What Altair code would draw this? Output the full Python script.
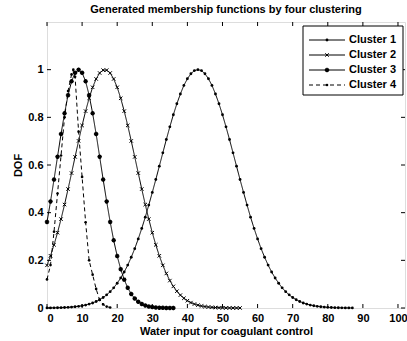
import altair as alt
import pandas as pd

# ---- data ----
x1 = list(range(0, 88))
c1 = [0.0004, 0.0005, 0.0007, 0.001, 0.0015, 0.002, 0.0028, 0.0039, 0.0053, 0.0071,
      0.0094, 0.0124, 0.0163, 0.0211, 0.0272, 0.0347, 0.0439, 0.0552, 0.0686, 0.0847,
      0.104, 0.126, 0.151, 0.180, 0.213, 0.249, 0.290, 0.334, 0.381, 0.432,
      0.485, 0.539, 0.595, 0.651, 0.707, 0.760, 0.811, 0.857, 0.898, 0.934,
      0.962, 0.983, 0.996, 1.0,
      0.996, 0.983, 0.962, 0.934, 0.898, 0.857,
      0.811, 0.760, 0.707, 0.651, 0.595, 0.539, 0.485, 0.432, 0.381, 0.334,
      0.290, 0.249, 0.213, 0.180, 0.151, 0.126, 0.104, 0.0847, 0.0686, 0.0552,
      0.0439, 0.0347, 0.0272, 0.0211, 0.0163, 0.0124, 0.0094, 0.0071, 0.0053, 0.0039,
      0.0028, 0.002, 0.0015, 0.001, 0.0007, 0.0005, 0.0004, 0.0002]

x2 = list(range(0, 56))
c2 = [0.179, 0.219, 0.265, 0.316, 0.373, 0.434, 0.499, 0.566, 0.634, 0.701,
      0.766, 0.826, 0.880, 0.926, 0.961, 0.986, 0.998, 0.998, 0.986, 0.961,
      0.926, 0.880, 0.826, 0.766, 0.701, 0.634, 0.566, 0.499, 0.434, 0.373,
      0.316, 0.265, 0.219, 0.179, 0.145, 0.115, 0.0907, 0.0704, 0.0540, 0.0409,
      0.0306, 0.0226, 0.0165, 0.0119, 0.0084, 0.0059, 0.0041, 0.0028, 0.0019, 0.0013,
      0.0008, 0.0005, 0.0003, 0.0002, 0.0001, 0.0001]

x3 = list(range(0, 37))
c3 = [0.361, 0.447, 0.539, 0.635, 0.730, 0.817, 0.893, 0.951, 0.987, 1.0,
      0.987, 0.951, 0.893, 0.817, 0.730, 0.635, 0.539, 0.447, 0.361, 0.284,
      0.218, 0.163, 0.119, 0.0847, 0.0588, 0.0398, 0.0263, 0.0169, 0.0106, 0.0065,
      0.0039, 0.0023, 0.0013, 0.0007, 0.0004, 0.0002, 0.0001]

x4 = [0, 1, 2, 3, 4, 5, 6, 7, 7.5, 8, 9, 10, 11, 12, 13, 14, 15, 16, 17, 18]
c4 = [0.12, 0.18, 0.32, 0.48, 0.64, 0.80, 0.91, 0.98, 1.0, 0.97,
      0.74, 0.55, 0.36, 0.20, 0.14, 0.08, 0.034, 0.015, 0.006, 0.002]

names = ["Cluster 1", "Cluster 2", "Cluster 3", "Cluster 4"]
x_ticks = [0, 10, 20, 30, 40, 50, 60, 70, 80, 90, 100]
y_ticks = [0, 0.2, 0.4, 0.6, 0.8, 1]

title_text = "Generated membership functions by four clustering"
x_title = "Water input for coagulant control"
y_title = "DOF"

# ---- layout / style ----
W, H = 358, 286
FONT = "Liberation Sans"
FW = "bold"
ASTER = "M-1,0L1,0M0,-1L0,1M-0.7,-0.7L0.7,0.7M-0.7,0.7L0.7,-0.7"
XMARK = "M-1,-1L1,1M-1,1L1,-1"

series = [(x1, c1), (x2, c2), (x3, c3), (x4, c4)]
frames = []
for name, (xs, ys) in zip(names, series):
    frames.append(pd.DataFrame({"x": xs, "y": ys, "cluster": name}))
df = pd.concat(frames, ignore_index=True)

xscale = alt.Scale(domain=[0, 102], nice=False, zero=False)
yscale = alt.Scale(domain=[0, 1.2], nice=False)

xaxis = alt.Axis(values=x_ticks, title=x_title, grid=False, domain=False,
                 ticks=False, labelPadding=4, titlePadding=2, labelOverlap=False,
                 labelFontSize=11, titleFontSize=11, labelFont=FONT, titleFont=FONT,
                 labelFontWeight=FW, titleFontWeight=FW,
                 labelColor="black", titleColor="black")
yaxis = alt.Axis(values=y_ticks, title=y_title, grid=False, domain=False, format=".1~f",
                 ticks=False, labelPadding=4, titlePadding=4, labelOverlap=False,
                 labelFontSize=11, titleFontSize=11, labelFont=FONT, titleFont=FONT,
                 labelFontWeight=FW, titleFontWeight=FW,
                 labelColor="black", titleColor="black")
X = alt.X("x:Q", scale=xscale, axis=xaxis)
Y = alt.Y("y:Q", scale=yscale, axis=yaxis)

styles = {
    "Cluster 1": dict(shape="circle", size=8, filled=True, dash=[1, 0], sw=1),
    "Cluster 2": dict(shape=XMARK, size=12, filled=False, dash=[1, 0], sw=1),
    "Cluster 3": dict(shape=ASTER, size=20, filled=False, dash=[1, 0], sw=1.3),
    "Cluster 4": dict(shape="circle", size=7, filled=True, dash=[4, 3], sw=1),
}

base = alt.Chart(df)
layers = []
for name in names:
    st = styles[name]
    sub = base.transform_filter(alt.datum.cluster == name)
    layers.append(sub.mark_line(color="black", strokeWidth=1, strokeDash=st["dash"]).encode(x=X, y=Y))
    layers.append(sub.mark_point(shape=st["shape"], size=st["size"], filled=st["filled"],
                                 color="black", strokeWidth=st["sw"], opacity=1).encode(x=X, y=Y))

# inward ticks (MATLAB box style)
xt = alt.Chart(pd.DataFrame({"x": x_ticks}))
yt = alt.Chart(pd.DataFrame({"y": y_ticks}))
tick_layers = [
    xt.mark_rule(color="black", strokeWidth=1).encode(x=X, y=alt.value(H), y2=alt.value(H - 4)),
    xt.mark_rule(color="black", strokeWidth=1).encode(x=X, y=alt.value(0), y2=alt.value(4)),
    yt.mark_rule(color="black", strokeWidth=1).encode(y=Y, x=alt.value(0), x2=alt.value(4)),
    yt.mark_rule(color="black", strokeWidth=1).encode(y=Y, x=alt.value(W), x2=alt.value(W - 4)),
]

# legend box
one = alt.Chart(pd.DataFrame({"a": [0]}))
LX0, LX1, LY0, LY1 = 256, 356, 4, 73
legend_layers = [
    one.mark_rect(fill="white", stroke="black", strokeWidth=1).encode(
        x=alt.value(LX0), x2=alt.value(LX1), y=alt.value(LY0), y2=alt.value(LY1))
]
row_y = [18, 33, 48, 63]
for name, ry in zip(names, row_y):
    st = styles[name]
    legend_layers.append(one.mark_rule(color="black", strokeWidth=1, strokeDash=st["dash"]).encode(
        x=alt.value(LX0 + 6), x2=alt.value(LX0 + 42), y=alt.value(ry)))
    legend_layers.append(one.mark_point(shape=st["shape"], size=st["size"], filled=st["filled"],
                                        color="black", strokeWidth=st["sw"], opacity=1).encode(
        x=alt.value(LX0 + 24), y=alt.value(ry)))
    legend_layers.append(one.mark_text(text=name, align="left", baseline="middle", font=FONT,
                                       fontSize=11, fontWeight=FW, color="black").encode(
        x=alt.value(LX0 + 46), y=alt.value(ry)))

chart = alt.layer(*layers, *tick_layers, *legend_layers).properties(
    width=W, height=H,
    title=alt.TitleParams(title_text, font=FONT, fontSize=11, fontWeight=FW,
                          anchor="middle", offset=7, color="black"),
    autosize=alt.AutoSizeParams(type="none"),
    padding={"left": 47, "top": 22, "right": 2, "bottom": 33},
).configure_view(stroke="black", strokeWidth=1).configure(background="white")

chart.save("out.html", embed_options={"renderer": "svg", "actions": False})
